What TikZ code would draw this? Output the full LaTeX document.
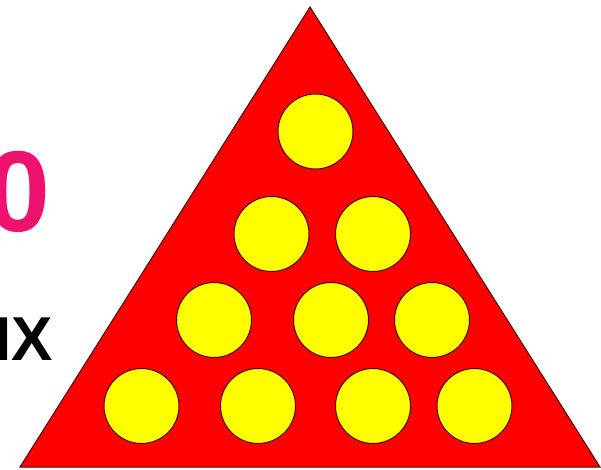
\documentclass[tikz,border=0pt]{standalone}
\usepackage{fontspec}
\setmainfont{Liberation Sans}
\definecolor{numpink}{RGB}{236,18,110}
\definecolor{edgedark}{RGB}{70,10,0}
\definecolor{ballyellow}{RGB}{255,255,0}
\definecolor{trired}{RGB}{255,0,0}
\begin{document}
\begin{tikzpicture}[x=1pt,y=-1pt,
  ball/.style={circle,draw=edgedark,line width=1pt,fill=ballyellow,minimum size=75pt,inner sep=0pt},
  bigtxt/.style={inner sep=0pt,anchor=base east}]
\useasboundingbox (0,0) rectangle (601,469);
\fill[white] (0,0) rectangle (601,469);
\draw[fill=trired,draw=edgedark,line width=1pt] (310,7) -- (600,467) -- (20,467) -- cycle;
\node[ball] (b1) at (315.5,131.5) {};
\node[ball] (b2) at (271.5,234) {};
\node[ball] (b3) at (373,234) {};
\node[ball] (b4) at (214,320) {};
\node[ball] (b5) at (331,320) {};
\node[ball] (b6) at (432,320) {};
\node[ball] (b7) at (141.5,406) {};
\node[ball] (b8) at (258,406) {};
\node[ball] (b9) at (373,406) {};
\node[ball] (b10) at (474.5,406) {};
\begin{scope}
\clip (0,0) rectangle (601,469);
\node[bigtxt,text=numpink,font=\fontsize{115}{115}\selectfont\bfseries] (num) at (50.5,231) {10};
\node[bigtxt,text=black,font=\fontsize{62}{62}\selectfont\bfseries] (word) at (53.5,360) {DIX};
\end{scope}
\end{tikzpicture}
\end{document}
